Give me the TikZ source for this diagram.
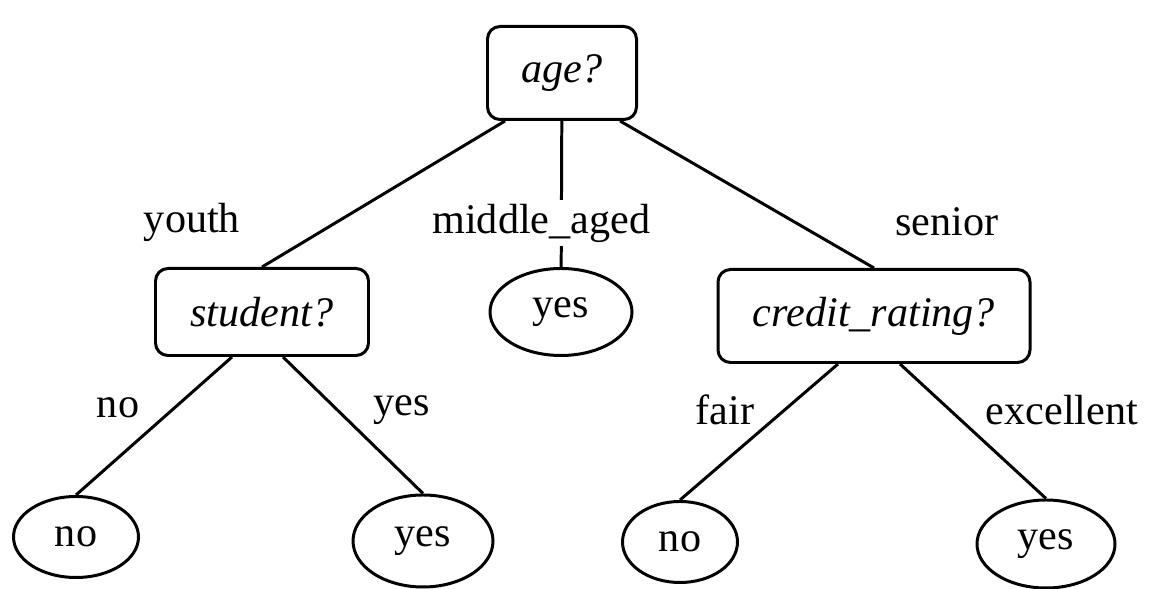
\documentclass[tikz,border=0pt]{standalone}
\usepackage{fontspec}
\setmainfont{Liberation Serif}
\usetikzlibrary{shapes.geometric}
\tikzset{font=\fontsize{24}{28}\selectfont}
\tikzstyle{test}=[draw,rounded corners=0.25cm,font=\fontsize{24}{28}\selectfont\itshape]
\tikzstyle{leaf}=[draw,ellipse,inner sep=0pt]
\tikzset{every picture/.style={line width=1.7pt}}

\begin{document}
\begin{tikzpicture}
\useasboundingbox (0,0) rectangle (23,11.78);
\node[test,minimum width=2.98cm,minimum height=1.86cm] (A) at (11.24,10.32) {age?};
\node[test,minimum width=4.26cm,minimum height=1.74cm] (S) at (5.24,5.54) {student?};
\node[test,minimum width=6.24cm,minimum height=1.86cm] (C) at (17.48,5.46) {credit\_rating?};
\node[leaf,minimum width=2.84cm,minimum height=1.74cm] (Y) at (11.22,5.54) {yes};
\node[leaf,minimum width=2.5cm,minimum height=1.62cm] (N1) at (1.52,1.04) {no};
\node[leaf,minimum width=2.8cm,minimum height=1.84cm] (Y1) at (8.46,0.96) {yes};
\node[leaf,minimum width=2.3cm,minimum height=1.62cm] (N2) at (13.6,0.94) {no};
\node[leaf,minimum width=2.76cm,minimum height=1.76cm] (Y2) at (20.92,0.9) {yes};
\node (youth) at (3.84,7.34) {youth};
\node (senior) at (18.94,7.34) {senior};
\node (no) at (2.36,3.62) {no};
\node (yes) at (8.04,3.58) {yes};
\node (fair) at (14.5,3.58) {fair};
\node (exc) at (21.24,3.58) {excellent};
\path[-]
([xshift=-1.14cm]A.south) edge (S.north)
(A) edge node[pos=0.7,fill=white,inner ysep=2pt,xshift=-0.4cm]{middle\_aged} (Y)
([xshift=1.16cm]A.south) edge (C.north)
([xshift=-0.6cm]S.south) edge (N1.north)
([xshift=0.42cm]S.south) edge (Y1.north)
([xshift=-0.72cm]C.south) edge (N2.north)
([xshift=0.52cm]C.south) edge (Y2.north);
\end{tikzpicture}
\end{document}
